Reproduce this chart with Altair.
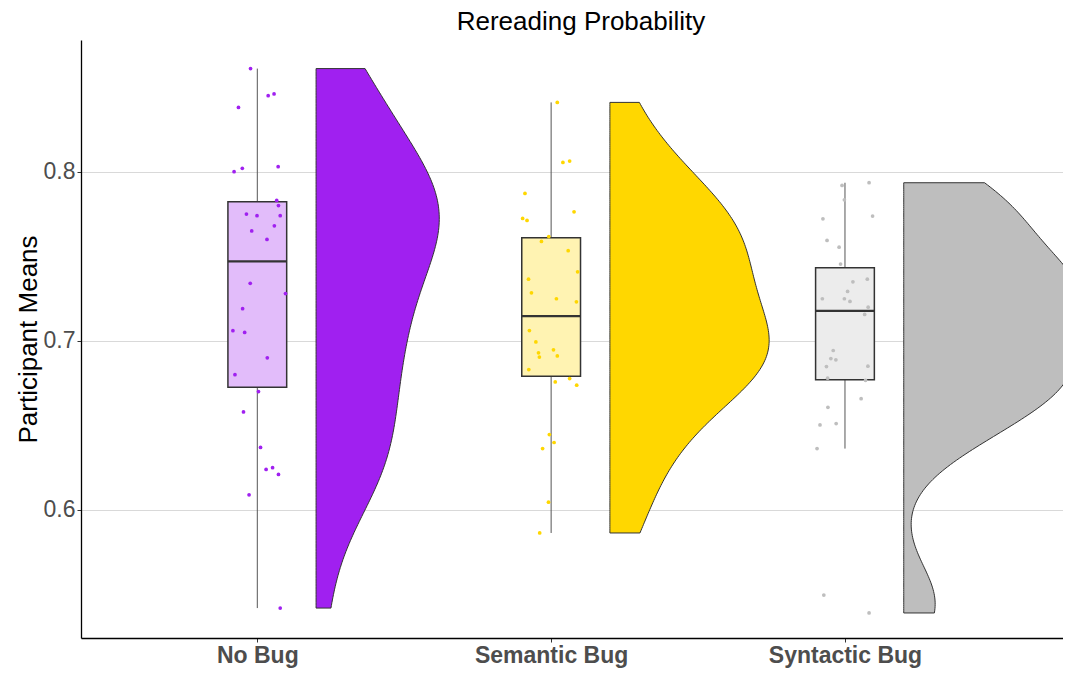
import altair as alt
import pandas as pd

categories = ["No Bug", "Semantic Bug", "Syntactic Bug"]
point_colors = ["#A020F0", "#FFD700", "#BEBEBE"]
box_fills = ["#E2BCFA", "#FFF3B2", "#ECECEC"]
chart_title = "Rereading Probability"
y_title = "Participant Means"
y_ticks = [0.6, 0.7, 0.8]

no_bug = [0.861, 0.845, 0.846, 0.838, 0.800, 0.802, 0.803, 0.783, 0.780, 0.775,
          0.774, 0.774, 0.768, 0.765, 0.760, 0.734, 0.728, 0.719, 0.706, 0.705,
          0.690, 0.680, 0.670, 0.658, 0.637, 0.625, 0.624, 0.621, 0.609, 0.542]
no_bug_jitter = [-0.023, 0.037, 0.057, -0.064, -0.079, -0.051, 0.071, 0.066, 0.072, -0.037,
                 -0.001, 0.078, 0.058, -0.019, 0.033, -0.024, 0.096, -0.050, -0.083, -0.043,
                 0.034, -0.076, 0.004, -0.047, 0.011, 0.052, 0.030, 0.072, -0.028, 0.078]

semantic = [0.8410, 0.8055, 0.8063, 0.7872, 0.7763, 0.7724, 0.7712, 0.7617, 0.7588, 0.7533,
            0.7408, 0.7365, 0.7284, 0.7249, 0.7231, 0.7061, 0.6994, 0.6947, 0.6929, 0.6911,
            0.6904, 0.6830, 0.6757, 0.6777, 0.6738, 0.6446, 0.6399, 0.6363, 0.6046, 0.5864]
semantic_jitter = [0.021, 0.040, 0.063, -0.089, 0.078, -0.097, -0.082, -0.008, -0.033, 0.058,
                   0.090, -0.077, -0.067, 0.018, 0.086, -0.074, -0.052, 0.008, -0.043, 0.021,
                   -0.040, -0.076, 0.014, 0.063, 0.087, -0.006, 0.010, -0.029, -0.009, -0.039]

syntactic = [0.7919, 0.7935, 0.7834, 0.7738, 0.7722, 0.7594, 0.7554, 0.7454, 0.7349, 0.7365,
             0.7292, 0.7249, 0.7249, 0.7233, 0.7199, 0.7156, 0.6943, 0.6895, 0.6888, 0.6848,
             0.6850, 0.6779, 0.6767, 0.6658, 0.6607, 0.6503, 0.6511, 0.6363, 0.5497, 0.5391]
syntactic_jitter = [-0.010, 0.082, -0.002, 0.094, -0.075, -0.061, -0.020, -0.015, 0.027, 0.076,
                    0.009, -0.077, -0.002, 0.017, 0.079, 0.067, -0.040, -0.048, -0.031, -0.063,
                    0.078, -0.059, 0.070, 0.055, -0.058, -0.085, -0.030, -0.095, -0.072, 0.082]

bandwidths = [0.0372, 0.0279, 0.0225]

groups = [(no_bug, no_bug_jitter), (semantic, semantic_jitter), (syntactic, syntactic_jitter)]
rows = []
for i, (vals, jit) in enumerate(groups):
    for v, j in zip(vals, jit):
        rows.append({"group": categories[i], "pos": i + 1, "value": v, "jx": i + 1 + j})
df = pd.DataFrame(rows)

FONT = "Liberation Sans"
violin_k = 0.093

x_scale = alt.Scale(domain=[0.4, 3.742], nice=False, zero=False)
y_scale = alt.Scale(domain=[0.5243, 0.8779], nice=False, zero=False)
color_scale = alt.Scale(domain=categories, range=point_colors)
fill_scale = alt.Scale(domain=categories, range=box_fills)

label_expr = " : ".join(f"datum.value == {i + 1} ? '{c}'" for i, c in enumerate(categories)) + " : ''"

x_axis = alt.Axis(values=[1, 2, 3], labelExpr=label_expr, grid=False, title=None,
                  labelFontSize=23, labelFontWeight="bold", labelColor="#4D4D4D",
                  labelPadding=2, tickSize=4, tickColor="#333333", domainColor="#000000",
                  domainWidth=1.3, labelFont=FONT)
y_axis = alt.Axis(values=y_ticks, format=".1f", grid=True, gridColor="#D9D9D9", gridWidth=1.2,
                  title=y_title, labelFontSize=23, labelColor="#4D4D4D", labelPadding=2,
                  tickSize=4, tickColor="#333333", domainColor="#000000", domainWidth=1.3,
                  titleFontSize=26, titleFontWeight="normal", titleColor="#000000",
                  titlePadding=2, labelFont=FONT, titleFont=FONT)


def X(f):
    return alt.X(f, type="quantitative", scale=x_scale, axis=x_axis)


def Y(f):
    return alt.Y(f, type="quantitative", scale=y_scale, axis=y_axis)


base = alt.Chart(df)

whiskers = base.transform_joinaggregate(
    q1="q1(value)", q3="q3(value)", groupby=["group"]
).transform_calculate(
    lo="datum.q1 - 1.5 * (datum.q3 - datum.q1)",
    hi="datum.q3 + 1.5 * (datum.q3 - datum.q1)"
).transform_filter(
    "datum.value >= datum.lo && datum.value <= datum.hi"
).transform_aggregate(
    wlo="min(value)", whi="max(value)", groupby=["group", "pos"]
).mark_rule(color="#555555", strokeWidth=1).encode(
    x=X("pos"), y=Y("wlo"), y2=alt.Y2("whi")
)

box_stats = base.transform_aggregate(
    q1="q1(value)", q3="q3(value)", med="median(value)", groupby=["group", "pos"]
).transform_calculate(
    bx1="datum.pos - 0.1", bx2="datum.pos + 0.1"
)

boxes = box_stats.mark_rect(stroke="#333333", strokeWidth=1.5).encode(
    x=X("bx1"), x2=alt.X2("bx2"), y=Y("q1"), y2=alt.Y2("q3"),
    fill=alt.Fill("group:N", scale=fill_scale, legend=None)
)

medians = box_stats.mark_rule(color="#333333", strokeWidth=2.4).encode(
    x=X("bx1"), x2=alt.X2("bx2"), y=Y("med")
)

points = base.mark_circle(size=14, opacity=1).encode(
    x=X("jx"), y=Y("value"),
    color=alt.Color("group:N", scale=color_scale, legend=None)
)

violins = []
for i, cat in enumerate(categories):
    v = base.transform_filter(
        alt.datum.group == cat
    ).transform_density(
        "value", as_=["value", "density"], bandwidth=bandwidths[i],
        groupby=["group", "pos"], steps=200
    ).transform_calculate(
        vx0="datum.pos + 0.2",
        vx1=f"datum.pos + 0.2 + datum.density * {violin_k}"
    ).mark_area(orient="horizontal", stroke="#333333", strokeWidth=1, clip=True).encode(
        y=Y("value"), x=X("vx0"), x2=alt.X2("vx1"),
        color=alt.Color("group:N", scale=color_scale, legend=None)
    )
    violins.append(v)

chart = alt.layer(whiskers, boxes, medians, points, *violins).properties(
    width=982, height=598,
    title=alt.TitleParams(chart_title, fontSize=26, fontWeight="normal", font=FONT,
                          color="#000000", anchor="middle", offset=5, dx=9),
    autosize=alt.AutoSizeParams(type="none"),
    padding={"left": 73, "top": 32, "right": 0, "bottom": 31},
    background="white",
).configure_view(stroke=None)

chart.save("out.html", embed_options={"renderer": "svg", "actions": False})
